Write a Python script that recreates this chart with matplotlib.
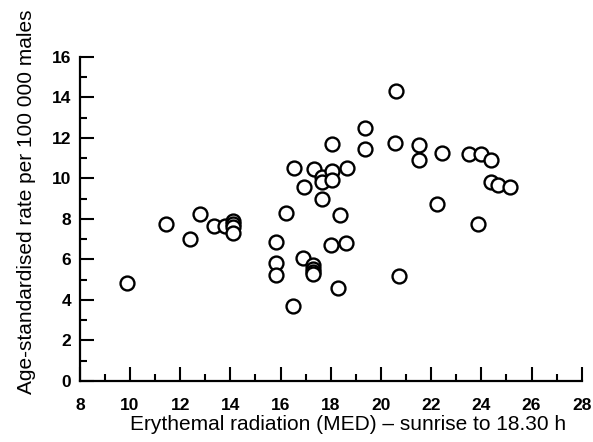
import matplotlib
matplotlib.use("Agg")
import matplotlib.pyplot as plt
from matplotlib.ticker import MultipleLocator

radiation = [9.9, 11.45, 12.4, 12.8, 13.35, 13.8, 14.1, 14.1, 14.1, 14.1,
             15.8, 15.8, 15.8, 16.2, 16.5, 16.55, 16.9, 16.95, 17.3, 17.3, 17.3, 17.3, 17.35,
             17.65, 17.65, 17.65, 18.0, 18.05, 18.05, 18.05, 18.3, 18.35, 18.6, 18.65,
             19.35, 19.35, 20.55, 20.6, 20.7, 21.5, 21.5, 22.25, 22.45, 23.5, 23.85, 24.0,
             24.4, 24.4, 24.65, 25.15]
rate = [4.85, 7.75, 7.0, 8.25, 7.65, 7.65, 7.9, 7.75, 7.6, 7.3,
        6.85, 5.8, 5.25, 8.3, 3.7, 10.5, 6.05, 9.55, 5.7, 5.55, 5.4, 5.3, 10.45,
        10.05, 9.8, 9.0, 6.7, 11.7, 10.35, 9.9, 4.6, 8.2, 6.8, 10.5,
        12.5, 11.45, 11.75, 14.3, 5.2, 11.65, 10.9, 8.75, 11.25, 11.2, 7.75, 11.2,
        10.9, 9.8, 9.65, 9.55]

x_ticks = [8, 10, 12, 14, 16, 18, 20, 22, 24, 26, 28]
y_ticks = [0, 2, 4, 6, 8, 10, 12, 14, 16]

plt.rcParams['font.family'] = ['Liberation Sans', 'DejaVu Sans']
plt.rcParams['xtick.labelsize'] = 12.5
plt.rcParams['ytick.labelsize'] = 12.5
plt.rcParams['xtick.major.pad'] = 12
plt.rcParams['ytick.major.pad'] = 6
plt.rcParams['xtick.direction'] = 'in'
plt.rcParams['ytick.direction'] = 'in'

W, H = 593, 442
fig = plt.figure(figsize=(W / 100, H / 100), dpi=100)
ax = fig.add_axes([0.1346, 0.138, 0.981 - 0.1346, 0.8717 - 0.138])

ax.scatter(radiation, rate, s=100, facecolors='white', edgecolors='black',
           linewidths=1.7, zorder=3, clip_on=False)

ax.set_xlim(8, 28)
ax.set_ylim(0, 16)
ax.set_xticks(x_ticks)
ax.set_yticks(y_ticks)
ax.xaxis.set_minor_locator(MultipleLocator(1))
ax.yaxis.set_minor_locator(MultipleLocator(1))

for s in ['top', 'right']:
    ax.spines[s].set_visible(False)
for s in ['left', 'bottom']:
    ax.spines[s].set_linewidth(1.6)

ax.tick_params(which='major', length=10, width=1.5)
ax.tick_params(which='minor', length=5, width=1.5)

fig.text(348 / W, 1 - 430 / H, 'Erythemal radiation (MED) – sunrise to 18.30 h',
         fontsize=15, ha='center', va='baseline')
fig.text(27 / W, 1 - 202 / H, 'Age-standardised rate per 100 000 males',
         fontsize=15, ha='center', va='center', rotation=90)

fig.canvas.draw()
for lab in ax.get_xticklabels() + ax.get_yticklabels():
    lab.set_fontweight('bold')
    lab.set_fontsize(12.5)

fig.savefig('out.png', dpi=100)
